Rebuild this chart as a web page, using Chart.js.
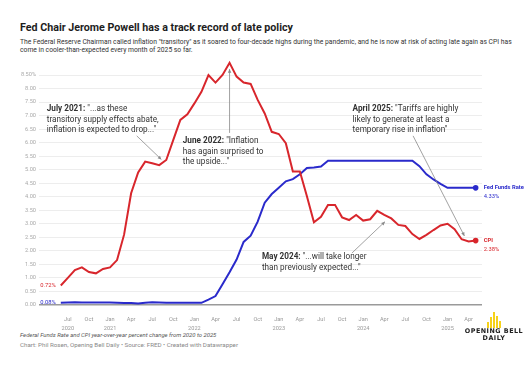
<!DOCTYPE html>
<html>
<head>
<meta charset="utf-8">
<script src="https://cdn.jsdelivr.net/npm/chart.js@4.4.1/dist/chart.umd.min.js"></script>
<style>
  body { margin: 0; background: #fff; font-family: Roboto, sans-serif; width: 526px; height: 386px; overflow: hidden; position: relative; }
  #title { position: absolute; left: 20px; top: 21px; font-size: 10.7px; font-weight: 700; color: #1d1d1d; white-space: nowrap; }
  #sub { position: absolute; left: 20px; top: 38px; font-size: 6.75px; line-height: 8.4px; color: #333; white-space: nowrap; }
  #wrap { position: absolute; left: 0; top: 55px; width: 526px; height: 275px; }
  #note { position: absolute; left: 20px; top: 331.5px; font-size: 5.9px; font-style: italic; color: #555; white-space: nowrap; }
  #credit { position: absolute; left: 20px; top: 340.5px; font-size: 6.2px; color: #888; white-space: nowrap; }
  #logo { position: absolute; left: 462px; top: 310px; width: 64px; text-align: center; }
  #bars { height: 18px; display: flex; justify-content: center; align-items: flex-end; gap: 1px; }
  #bars div { width: 2.2px; background: #f6d21a; }
  #logo .t { font-family: "DejaVu Sans", sans-serif; font-weight: 700; font-size: 6.4px; letter-spacing: 0.5px; line-height: 6.6px; color: #222; }
</style>
</head>
<body>
<div id="title">Fed Chair Jerome Powell has a track record of late policy</div>
<div id="sub">The Federal Reserve Chairman called inflation "transitory" as it soared to four-decade highs during the pandemic, and he is now at risk of acting late again as CPI has<br>come in cooler-than-expected every month of 2025 so far.</div>
<div id="wrap"><canvas id="chart" width="526" height="275"></canvas></div>
<div id="note">Federal Funds Rate and CPI year-over-year percent change from 2020 to 2025</div>
<div id="credit">Chart: Phil Rosen, Opening Bell Daily • Source: FRED • Created with Datawrapper</div>
<div id="logo">
  <div id="bars"><div style="height:6px"></div><div style="height:11px"></div><div style="height:16px"></div><div style="height:12px"></div><div style="height:7px"></div></div>
  <div class="t">OPENING BELL</div>
  <div class="t">DAILY</div>
</div>
<script>
// meses mostrados (jun 2020 a may 2025)
const months = [
  'Jun 2020','Jul 2020','Aug 2020','Sep 2020','Oct 2020','Nov 2020','Dec 2020',
  'Jan 2021','Feb 2021','Mar 2021','Apr 2021','May 2021','Jun 2021','Jul 2021','Aug 2021','Sep 2021','Oct 2021','Nov 2021','Dec 2021',
  'Jan 2022','Feb 2022','Mar 2022','Apr 2022','May 2022','Jun 2022','Jul 2022','Aug 2022','Sep 2022','Oct 2022','Nov 2022','Dec 2022',
  'Jan 2023','Feb 2023','Mar 2023','Apr 2023','May 2023','Jun 2023','Jul 2023','Aug 2023','Sep 2023','Oct 2023','Nov 2023','Dec 2023',
  'Jan 2024','Feb 2024','Mar 2024','Apr 2024','May 2024','Jun 2024','Jul 2024','Aug 2024','Sep 2024','Oct 2024','Nov 2024','Dec 2024',
  'Jan 2025','Feb 2025','Mar 2025','Apr 2025','May 2025'
];

const cpi = [
  0.72, 1.00, 1.29, 1.39, 1.22, 1.17, 1.33,
  1.39, 1.66, 2.60, 4.13, 4.90, 5.30, 5.24, 5.17, 5.36, 6.10, 6.84, 7.05,
  7.45, 7.88, 8.50, 8.22, 8.50, 8.95, 8.44, 8.22, 8.17, 7.58, 7.08, 6.40,
  6.32, 5.98, 4.93, 4.93, 4.02, 3.06, 3.26, 3.70, 3.70, 3.24, 3.14, 3.33,
  3.12, 3.17, 3.48, 3.33, 3.20, 2.96, 2.92, 2.62, 2.44, 2.59, 2.77, 2.94,
  3.00, 2.80, 2.43, 2.35, 2.38
];

const fedFunds = [
  0.08, 0.09, 0.10, 0.09, 0.09, 0.09, 0.09,
  0.09, 0.08, 0.07, 0.07, 0.06, 0.08, 0.10, 0.09, 0.08, 0.08, 0.08, 0.08,
  0.08, 0.08, 0.20, 0.33, 0.77, 1.21, 1.68, 2.33, 2.56, 3.08, 3.78, 4.10,
  4.33, 4.57, 4.65, 4.83, 5.06, 5.08, 5.12, 5.33, 5.33, 5.33, 5.33, 5.33,
  5.33, 5.33, 5.33, 5.33, 5.33, 5.33, 5.33, 5.33, 5.13, 4.83, 4.64, 4.48,
  4.33, 4.33, 4.33, 4.33, 4.33
];

// meses con etiqueta en el eje X
const tickMonths = [
  'Jul 2020','Oct 2020','Jan 2021','Apr 2021','Jul 2021','Oct 2021','Jan 2022','Apr 2022','Jul 2022','Oct 2022',
  'Jan 2023','Apr 2023','Jul 2023','Oct 2023','Jan 2024','Apr 2024','Jul 2024','Oct 2024','Jan 2025','Apr 2025'
];

const RED = '#d8262c';
const BLUE = '#2a2acb';

// notas de texto con flecha (coordenadas en unidades del gráfico)
const notes = [
  { x: -2, y: 7.24, bold: 'July 2021:', lines: [' "...as these', 'transitory supply effects abate,', 'inflation is expected to drop..."'], arrow: [10.8, 6.25, 14.3, 5.38] },
  { x: 17.35, y: 6.06, bold: 'June 2022:', lines: [' "Inflation', 'has again surprised to', 'the upside..."'], arrow: [24.0, 6.36, 24.0, 8.72] },
  { x: 41.5, y: 7.24, bold: 'April 2025:', lines: [' "Tariffs are highly', 'likely to generate at least a', 'temporary rise in inflation"'], arrow: [50.1, 6.25, 57.4, 2.55] },
  { x: 28.6, y: 1.77, bold: 'May 2024:', lines: [' "...will take longer', 'than previously expected..."'], arrow: [41.4, 1.92, 46.1, 3.08] }
];

function drawArrow(ctx, x1, y1, x2, y2) {
  const a = Math.atan2(y2 - y1, x2 - x1);
  ctx.beginPath();
  ctx.moveTo(x1, y1);
  ctx.lineTo(x2, y2);
  ctx.stroke();
  ctx.beginPath();
  ctx.moveTo(x2, y2);
  ctx.lineTo(x2 - 4 * Math.cos(a - 0.45), y2 - 4 * Math.sin(a - 0.45));
  ctx.lineTo(x2 - 4 * Math.cos(a + 0.45), y2 - 4 * Math.sin(a + 0.45));
  ctx.closePath();
  ctx.fill();
}

const labelsPlugin = {
  id: 'labelsPlugin',
  afterDatasetsDraw(chart) {
    const ctx = chart.ctx;
    const xs = chart.scales.x, ys = chart.scales.y;
    ctx.save();

    // notas
    notes.forEach(n => {
      const px = xs.getPixelForValue(n.x);
      const py = ys.getPixelForValue(n.y);
      ctx.textBaseline = 'middle';
      ctx.textAlign = 'left';
      ctx.fillStyle = '#333';
      ctx.font = '700 8.2px Roboto';
      ctx.fillText(n.bold, px, py);
      const bw = ctx.measureText(n.bold).width;
      ctx.font = '400 8.2px Roboto';
      n.lines.forEach((l, k) => {
        ctx.fillText(l, k === 0 ? px + bw : px, py + k * 10.5);
      });
      ctx.strokeStyle = '#8a8a8a';
      ctx.fillStyle = '#8a8a8a';
      ctx.lineWidth = 0.8;
      const a = n.arrow;
      drawArrow(ctx, xs.getPixelForValue(a[0]), ys.getPixelForValue(a[1]), xs.getPixelForValue(a[2]), ys.getPixelForValue(a[3]));
    });

    // etiquetas de inicio y fin de cada serie
    chart.data.datasets.forEach((ds, di) => {
      const pts = chart.getDatasetMeta(di).data;
      const first = pts[0], last = pts[pts.length - 1];
      const vals = ds.data;
      ctx.fillStyle = ds.borderColor;
      ctx.textBaseline = 'middle';
      ctx.font = '400 5.8px Roboto';
      ctx.textAlign = 'right';
      ctx.fillText(vals[0].y.toFixed(2) + '%', first.x - 5, first.y - (di === 1 ? 0.5 : 0));
      ctx.textAlign = 'left';
      ctx.font = '700 5.8px Roboto';
      ctx.fillText(ds.label, last.x + 8, last.y);
      ctx.font = '400 5.8px Roboto';
      ctx.fillText(vals[vals.length - 1].y.toFixed(2) + '%', last.x + 8, last.y + 8.5);
    });
    ctx.restore();
  }
};

const lastIdx = months.length - 1;

new Chart(document.getElementById('chart'), {
  type: 'line',
  data: {
    datasets: [
      {
        label: 'CPI',
        data: cpi.map((v, i) => ({ x: i, y: v })),
        borderColor: RED,
        backgroundColor: RED,
        borderWidth: 2,
        pointRadius: c => c.dataIndex === lastIdx ? 1.8 : 0,
        tension: 0,
        clip: false
      },
      {
        label: 'Fed Funds Rate',
        data: fedFunds.map((v, i) => ({ x: i, y: v })),
        borderColor: BLUE,
        backgroundColor: BLUE,
        borderWidth: 2,
        pointRadius: c => c.dataIndex === lastIdx ? 1.8 : 0,
        tension: 0,
        clip: false
      }
    ]
  },
  options: {
    responsive: false,
    animation: false,
    devicePixelRatio: 1,
    layout: { padding: { top: 20, right: 44, left: 0, bottom: 0 } },
    plugins: { legend: { display: false }, tooltip: { enabled: false } },
    scales: {
      x: {
        type: 'linear',
        min: -3.1,
        max: 59.9,
        grid: { display: false },
        border: { display: false },
        afterFit: s => { s.height = 25; },
        afterBuildTicks: s => { s.ticks = tickMonths.map(m => ({ value: months.indexOf(m) })); },
        ticks: {
          autoSkip: false,
          maxRotation: 0,
          padding: 3,
          color: '#999',
          font: { family: 'Roboto', size: 5.6, lineHeight: 1.45 },
          callback: v => {
            const [mo, yr] = months[v].split(' ');
            return (mo === 'Jan' || v === 1) ? [mo, yr] : mo;
          }
        }
      },
      y: {
        min: 0,
        max: 8.5,
        afterFit: s => { s.width = 39; },
        border: { display: false },
        grid: {
          drawTicks: false,
          color: c => c.tick.value === 0 ? '#9a9a9a' : '#e9e9e9',
          lineWidth: c => c.tick.value === 0 ? 1.4 : 0.8
        },
        ticks: {
          stepSize: 0.5,
          padding: 3,
          color: '#aaa',
          font: { family: 'Roboto', size: 5.6 },
          callback: v => v === 8.5 ? '8.50%' : v.toFixed(2)
        }
      }
    }
  },
  plugins: [labelsPlugin]
});
</script>
</body>
</html>
